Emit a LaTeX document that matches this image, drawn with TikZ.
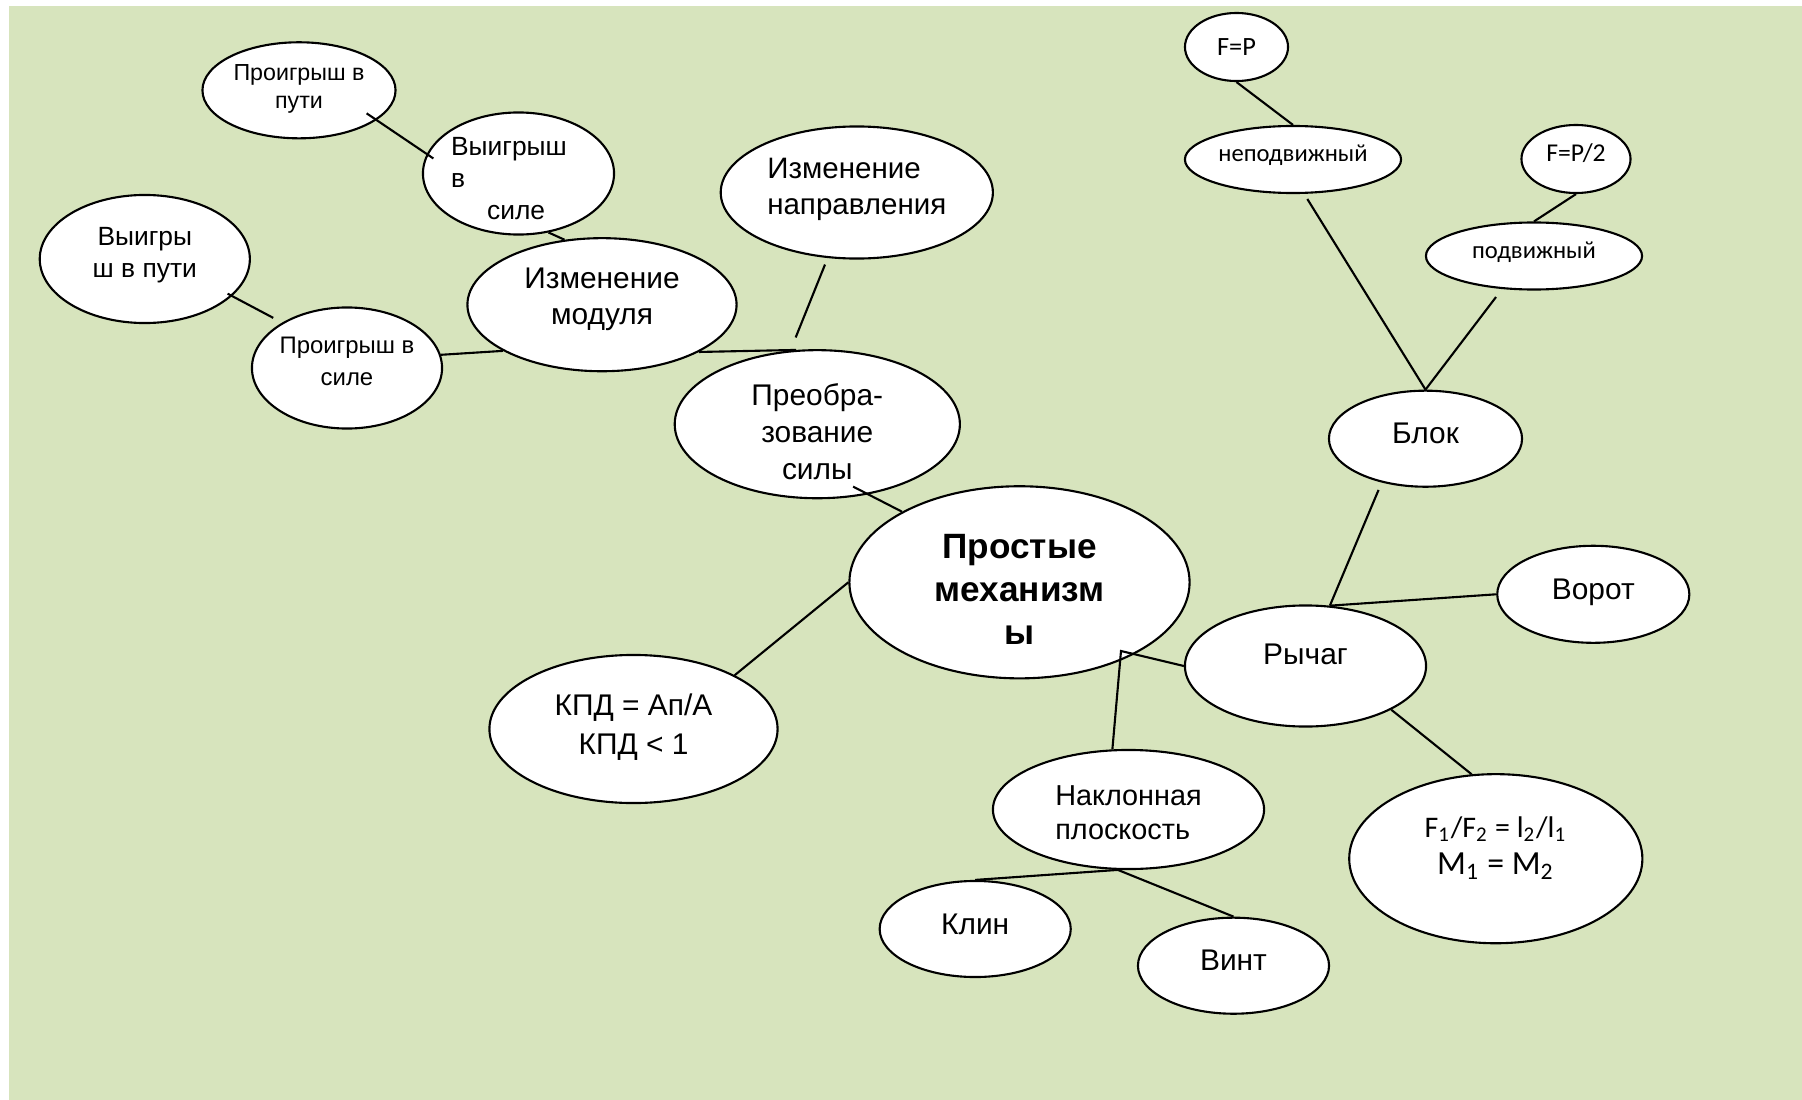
\documentclass[tikz,border=0pt]{standalone}
\usepackage{fontspec}
\setmainfont{Liberation Sans}
\newfontfamily\calibri{Carlito}
\usepackage{tikz}
\usetikzlibrary{shapes.geometric,calc}
\definecolor{MapGreen}{HTML}{D7E4BD}
\definecolor{MapInk}{HTML}{000000}
\tikzset{
  maptitle/.style={font=\fontsize{10}{12.2}\selectfont\bfseries, text=MapInk},
  mapbig/.style={font=\fontsize{8.5}{10.5}\selectfont, text=MapInk},
  mapmid/.style={font=\fontsize{7.5}{9.1}\selectfont, text=MapInk},
  mapsmall/.style={font=\fontsize{6.6}{7.9}\selectfont, text=MapInk},
  mapcal/.style={font=\calibri\fontsize{7}{8.5}\selectfont, text=MapInk},
  mapnode/.style={ellipse, draw=MapInk, fill=white, line width=0.6pt, inner sep=-6pt, align=center},
  mapline/.style={line width=0.6pt, draw=MapInk},
  oval/.style 2 args={minimum width=#1cm, minimum height=#2cm},
  textbox/.style 2 args={text height=#1cm, text depth=#2cm},
  oneline/.style={textbox={0.22}{0.12}}
}
\begin{document}
\begin{tikzpicture}[x=0.01cm, y=-0.01cm]
\useasboundingbox (0,0) rectangle (1802,1100);
\fill[MapGreen] (9,6) rectangle (1802,1100);
% centre
\node[mapnode, maptitle, oval={3.40}{1.92}, textbox={1.24}{0}] (main) at (1019.5,582.3) {Простые\\механизм\\ы};
% left branch
\node[mapnode, mapbig, oval={2.85}{1.48}, textbox={1.10}{0}] (preob) at (817.3,424.2) {Преобра-\\зование\\силы};
\node[mapnode, mapbig, font=\fontsize{8.5}{10.1}\selectfont, oval={2.69}{1.33}, textbox={0.45}{0.06}] (modul) at (602,304.7) {Изменение\\модуля};
\node[mapnode, mapbig, font=\fontsize{8.4}{10.1}\selectfont, oval={2.72}{1.32}, textbox={0.50}{0.06}, align=left] (naprav) at (856.8,192.5) {Изменение\\направления};
\node[mapnode, mapmid, oval={1.91}{1.22}, textbox={0.92}{0}, align=left] (vsile) at (518.5,173.5) {Выигрыш\hspace*{0.19cm}\\в\\\hspace*{0.36cm}силе};
\node[mapnode, mapsmall, oval={1.93}{0.96}, textbox={0.36}{0}] (pputi) at (299,90.3) {Проигрыш в\\пути};
\node[mapnode, mapmid, oval={2.10}{1.28}, textbox={0.37}{0}] (vputi) at (144.8,259) {Выигры\\ш в пути};
\node[mapnode, mapsmall, font=\fontsize{6.8}{9.1}\selectfont, oval={1.90}{1.21}, textbox={0.35}{0}] (psile) at (347,368) {Проигрыш в\\силе};
\node[mapnode, mapbig, font=\fontsize{8.5}{11.1}\selectfont, oval={2.88}{1.48}, textbox={0.51}{0}] (kpd) at (633.5,729) {КПД = Ап/А\\КПД < 1};
% right branch
\node[mapnode, mapbig, oval={2.41}{1.21}, textbox={0.22}{0.26}] (rychag) at (1305.5,666) {Рычаг};
\node[mapnode, mapbig, oval={1.93}{0.96}, oneline] (blok) at (1425.5,438.7) {Блок};
\node[mapnode, mapbig, oval={1.92}{0.97}, oneline] (vorot) at (1593.3,594.3) {Ворот};
\node[mapnode, font=\calibri\fontsize{8.5}{10.5}\selectfont, oval={2.93}{1.69}, textbox={0.43}{0.12}] (formula) at (1495.8,858.7)
  {F\textsubscript{1}/F\textsubscript{2} = l\textsubscript{2}/l\textsubscript{1}\\{\fontsize{9.6}{10.5}\selectfont M\textsubscript{1} = M\textsubscript{2}}};
\node[mapnode, mapbig, font=\fontsize{8.2}{9.8}\selectfont, oval={2.71}{1.19}, textbox={0.60}{0}, align=left] (naklon) at (1128.5,809.5) {Наклонная\\плоскость};
\node[mapnode, mapbig, oval={1.91}{0.96}, oneline] (klin) at (975.2,929) {Клин};
\node[mapnode, mapbig, oval={1.91}{0.96}, oneline] (vint) at (1233.5,965.7) {Винт};
\node[mapnode, mapcal, oval={2.16}{0.67}, textbox={0.16}{0.12}] (nepod) at (1293,159.5) {неподвижный};
\node[mapnode, mapcal, font=\calibri\fontsize{7.5}{9}\selectfont, oval={1.03}{0.68}, textbox={0.17}{0}] (fp) at (1236.5,47) {F=P};
\node[mapnode, mapcal, oval={2.16}{0.67}, textbox={0.16}{0.12}] (podv) at (1534,256) {подвижный};
\node[mapnode, mapcal, font=\calibri\fontsize{7.3}{8.5}\selectfont, oval={1.09}{0.68}, textbox={0.16}{0.12}] (fp2) at (1576,159) {F=P/2};
% connectors
\draw[mapline] (main.west) -- (kpd.28);
\draw[mapline, shorten <=-0.17cm] (preob.-54) -- (main.149);
\draw[mapline] (modul.-26) -- (preob.106);
\draw[mapline, shorten <=0.07cm, shorten >=0.14cm] (naprav.-114) -- (preob.110);
\draw[mapline] (psile.8) -- (modul.-155);
\draw[mapline, shorten <=-0.05cm, shorten >=0.1cm] (vputi.-23) -- (psile.145);
\draw[mapline] (vsile.-63) -- (modul.120);
\draw[mapline, shorten <=-0.12cm, shorten >=-0.08cm] (pputi.-21) -- (vsile.168);
\coordinate (fork) at (1121,651);
\draw[mapline] (naklon.105) -- (fork) -- (rychag.west);
\foreach \n in {klin,vint}{\draw[mapline] (naklon.-100) -- (\n.north);}
\draw[mapline] (rychag.68) -- (vorot.west);
\draw[mapline, shorten >=0.08cm] (rychag.68) -- (blok.-135);
\draw[mapline] (rychag.-27) -- (formula.106);
\draw[mapline, shorten >=0.06cm] (blok.north) -- (nepod.-72);
\draw[mapline, shorten >=0.1cm] (blok.north) -- (podv.-134);
\draw[mapline] (fp.south) -- (nepod.north);
\draw[mapline] (fp2.south) -- (podv.north);
\end{tikzpicture}
\end{document}
